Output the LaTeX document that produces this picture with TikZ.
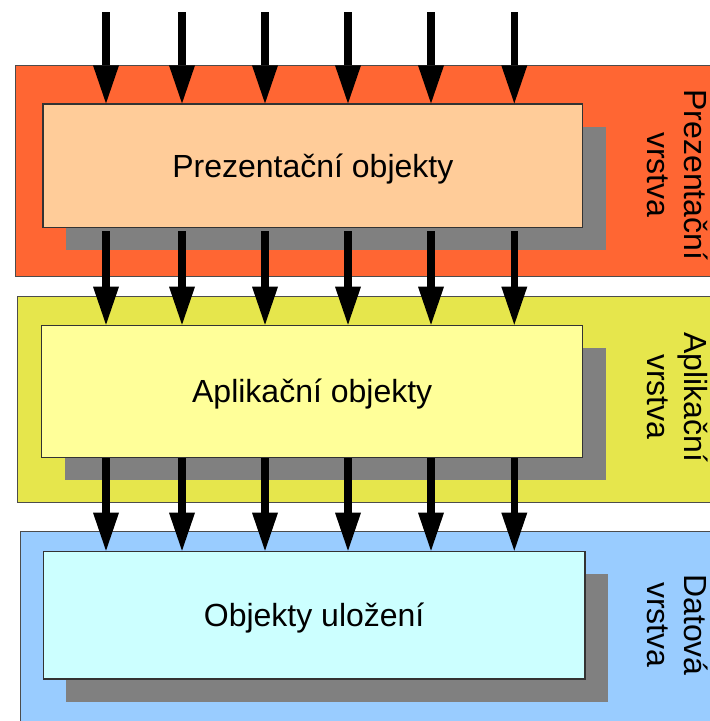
\documentclass[tikz,border=0pt]{standalone}
\usepackage{fontspec}
\setmainfont{Liberation Sans}
\usetikzlibrary{arrows.meta,shadows}

\definecolor{presLayer}{RGB}{255,102,51}
\definecolor{presBox}{RGB}{255,204,153}
\definecolor{appLayer}{RGB}{230,230,76}
\definecolor{appBox}{RGB}{255,255,153}
\definecolor{dataLayer}{RGB}{153,204,255}
\definecolor{dataBox}{RGB}{204,255,255}
\definecolor{shadowGray}{RGB}{128,128,128}

\begin{document}
\begin{tikzpicture}[x=1pt,y=-1pt,
  layer/.style={draw=black!70, line width=1pt},
  objbox/.style={rectangle, draw=black!80, line width=1.2pt, inner sep=0pt,
    text height=23pt, text depth=0pt, font=\fontsize{32}{37}\selectfont,
    drop shadow={shadow xshift=23pt, shadow yshift=-22.5pt,
      fill=shadowGray, opacity=1}},
  tag/.style={rotate=-90, align=center, inner sep=0pt, anchor=north,
    font=\fontsize{32}{37}\selectfont},
  flow/.style={line width=7.3pt,
    -{Triangle[width=26pt,length=38pt,line width=0pt]}}
]
\useasboundingbox (0,0) rectangle (710,721);
\begin{scope}
  \clip (0,0) rectangle (710,721);

  % the three layers
  \path[layer, fill=presLayer] (15.3,65.7)  rectangle (720,276.7);
  \path[layer, fill=appLayer]  (17.7,296.7) rectangle (720,502.3);
  \path[layer, fill=dataLayer] (20.3,531)   rectangle (720,730);

  % layer captions
  \node[tag] (tpres) at (708,175) {Prezentační\\vrstva};
  \node[tag] (tapp)  at (708,397) {Aplikační\\vrstva};
  \node[tag] (tdata) at (708,625) {Datová\\vrstva};

  % object boxes with their shadows
  \node[objbox, fill=presBox, minimum width=539.7pt, minimum height=123.7pt]
    (pres) at (312.85,165.85) {Prezentační objekty};
  \node[objbox, fill=appBox, minimum width=541pt, minimum height=132pt]
    (app) at (312.2,391.3) {Aplikační objekty};
  \node[objbox, fill=dataBox, minimum width=541.7pt, minimum height=127.7pt]
    (data) at (314.15,615.15) {Objekty uložení};

  % arrow columns
  \coordinate (top) at (0,12);
  \foreach \i/\x in {1/106,2/182,3/265,4/348,5/431,6/514.3}{
    \coordinate (c\i) at (\x,0);
    \draw[flow] (c\i |- top) -- (c\i |- pres.north);
    \draw[flow] (c\i |- pres.south) ++(0,3) -- (c\i |- app.north);
    \draw[flow] (c\i |- app.south) ++(0,0.5) -- (c\i |- data.north);
  }
\end{scope}
\end{tikzpicture}
\end{document}
